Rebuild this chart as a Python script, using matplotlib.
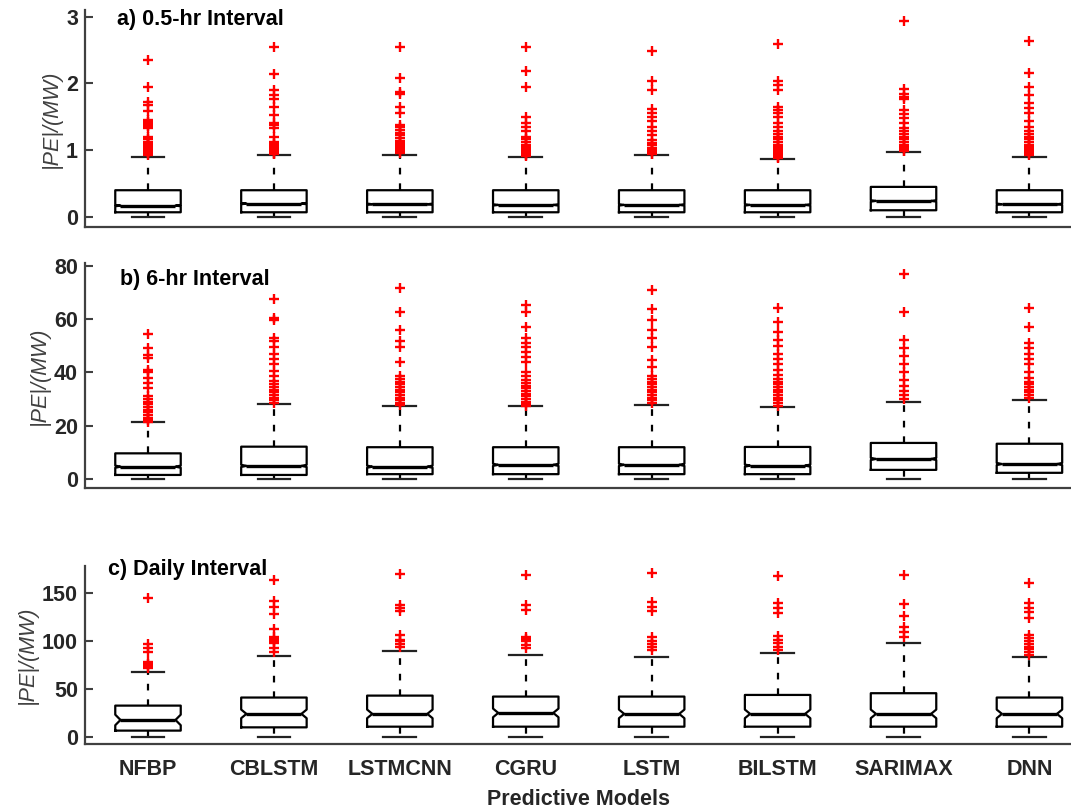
import numpy as np
import matplotlib.pyplot as plt

plt.rcParams['font.family'] = ['Liberation Sans', 'DejaVu Sans']
plt.rcParams['font.weight'] = 'bold'

models = ['NFBP', 'CBLSTM', 'LSTMCNN', 'CGRU', 'LSTM', 'BILSTM', 'SARIMAX', 'DNN']

# a) 0.5-hr interval
q1_a = [0.07, 0.07, 0.07, 0.07, 0.07, 0.07, 0.10, 0.07]
med_a = [0.17, 0.20, 0.19, 0.18, 0.18, 0.18, 0.24, 0.19]
q3_a = [0.40, 0.40, 0.40, 0.40, 0.40, 0.40, 0.45, 0.40]
lo_a = [0, 0, 0, 0, 0, 0, 0, 0]
hi_a = [0.90, 0.92, 0.92, 0.89, 0.92, 0.87, 0.97, 0.89]
ci_a = [0.01, 0.01, 0.01, 0.01, 0.01, 0.01, 0.01, 0.01]
fliers_a = [
    [2.35, 1.95, 1.72, 1.68, 1.58, 1.45, 1.42, 1.39, 1.36, 1.33, 1.2, 1.16, 1.12, 1.09, 1.07, 1.05, 1.03, 1.01, 0.99, 0.97, 0.95, 0.93],
    [2.54, 2.14, 1.90, 1.83, 1.76, 1.65, 1.53, 1.40, 1.37, 1.33, 1.20, 1.12, 1.09, 1.06, 1.03, 1.0, 0.98, 0.96, 0.94],
    [2.54, 2.08, 1.87, 1.84, 1.65, 1.55, 1.38, 1.35, 1.3, 1.26, 1.22, 1.18, 1.14, 1.1, 1.07, 1.04, 1.01, 0.98, 0.95],
    [2.54, 2.18, 1.94, 1.50, 1.40, 1.35, 1.29, 1.2, 1.16, 1.12, 1.08, 1.05, 1.02, 0.99, 0.96, 0.93, 0.91],
    [2.49, 2.04, 1.90, 1.62, 1.55, 1.50, 1.43, 1.35, 1.28, 1.23, 1.15, 1.11, 1.07, 1.03, 1.0, 0.97, 0.94],
    [2.59, 2.04, 1.97, 1.90, 1.65, 1.60, 1.55, 1.50, 1.40, 1.35, 1.28, 1.24, 1.2, 1.16, 1.12, 1.08, 1.05, 1.02, 0.99, 0.96, 0.93, 0.9, 0.88],
    [2.94, 1.91, 1.84, 1.80, 1.76, 1.60, 1.54, 1.48, 1.40, 1.33, 1.28, 1.24, 1.2, 1.16, 1.12, 1.08, 1.05, 1.02, 0.99],
    [2.64, 2.16, 1.94, 1.83, 1.70, 1.63, 1.55, 1.43, 1.35, 1.28, 1.24, 1.2, 1.16, 1.12, 1.08, 1.04, 1.01, 0.98, 0.95, 0.92],
]

# b) 6-hr interval
q1_b = [1.5, 1.5, 1.8, 1.8, 1.8, 1.8, 3.4, 2.3]
med_b = [4.6, 4.9, 4.6, 5.3, 5.3, 5.0, 7.5, 5.6]
q3_b = [9.6, 12.1, 11.9, 11.9, 11.9, 12.0, 13.5, 13.2]
lo_b = [0, 0, 0, 0, 0, 0, 0, 0]
hi_b = [21.2, 28.2, 27.4, 27.2, 27.8, 27.0, 29.0, 29.7]
ci_b = [0.4, 0.4, 0.4, 0.4, 0.4, 0.4, 0.4, 0.4]
fliers_b = [
    [54.4, 49, 46.6, 45.5, 41, 40, 38, 36, 34, 31, 30, 29, 28, 27, 26, 25, 24, 23, 22, 21.5],
    [67.3, 60.4, 59.5, 52.9, 51.6, 49.6, 47, 45, 43, 40.6, 38.7, 36.8, 35.5, 34.5, 33.5, 32.5, 31.5, 30.5, 29.5, 28.6],
    [71.7, 62.5, 56, 51.6, 49.5, 43.7, 38.7, 37.5, 36.5, 35.5, 34.5, 33.5, 32.5, 31.5, 30.5, 29.5, 28.5, 27.6],
    [65.1, 62.5, 57, 53, 51, 49.5, 47.5, 45.7, 43.7, 40, 38.5, 37, 36, 35, 34, 33, 32, 31, 30, 29, 28, 27.4],
    [71, 63.8, 59.5, 56, 53, 49.6, 44.5, 42, 38.7, 37.5, 36.5, 35.5, 34.5, 33.5, 32.5, 31.5, 30.5, 29.5, 28.5],
    [64, 59, 55, 52, 50, 47, 45, 43, 41, 39, 37.5, 36.5, 35.5, 34.5, 33.5, 32.5, 31.5, 30.5, 29.5, 28.5, 27.5],
    [77, 62.5, 52, 49, 46, 43, 40, 37, 35, 33, 31.5, 30],
    [64, 57, 51, 49, 47, 45, 43, 40, 38, 36.5, 35.5, 34.5, 33.5, 32.5, 31.5, 30.5],
]

# c) daily interval
q1_c = [6.6, 10, 10.7, 10.7, 10.7, 10.7, 10.7, 10.7]
med_c = [17.7, 24, 24, 25, 24, 24, 24, 24]
q3_c = [32.6, 41, 43, 42, 42, 43.7, 45.5, 41]
lo_c = [0, 0, 0, 0, 0, 0, 0, 0]
hi_c = [68, 84, 89.6, 85.4, 83.6, 87.8, 97.6, 83.6]
ci_c = [5.5, 4.5, 4.5, 4.5, 4.5, 4.5, 4.5, 4.5]
fliers_c = [
    [144, 97, 93, 88, 78, 76, 74, 72],
    [163, 141, 135, 128, 112, 104, 102, 100, 98, 93, 88],
    [169.5, 137.5, 134, 131, 106, 101, 100, 97, 94],
    [168.8, 137.5, 132, 104, 102, 100, 96, 92],
    [170.5, 140, 135, 131, 104, 100, 97, 94, 90],
    [167.7, 139, 134, 129, 104.5, 101, 97.6, 94, 90],
    [168.8, 138.5, 126, 114, 109, 103.8],
    [160, 139, 134, 130, 124, 106, 103, 100, 97, 94, 91, 88, 85],
]

positions = np.arange(1, len(models) + 1)
box_w = 0.52
txt_col = '#262626'
fs = 15.5


def draw_panel(ax, q1, med, q3, lo, hi, ci, fliers, ylim, yticks, title, tx, ty):
    stats = []
    for i in range(len(models)):
        stats.append(dict(q1=q1[i], med=med[i], q3=q3[i], whislo=lo[i], whishi=hi[i],
                          cilo=med[i] - ci[i], cihi=med[i] + ci[i], fliers=fliers[i]))
    art = ax.bxp(stats, positions=positions, widths=box_w, shownotches=True,
                 boxprops=dict(color='black', lw=1.6),
                 medianprops=dict(color='black', lw=2.4),
                 whiskerprops=dict(color='black', lw=1.6, linestyle=(0, (3, 4))),
                 capprops=dict(color='#222222', lw=1.6),
                 flierprops=dict(marker='+', markeredgecolor='red', markersize=7.5,
                                 markeredgewidth=1.7, linestyle='none'))
    # shallower notches, median across nearly full box
    for box, med_line, p in zip(art['boxes'], art['medians'], positions):
        x = np.array(box.get_xdata(), dtype=float)
        x[3] = p + box_w * 0.42
        x[8] = p - box_w * 0.42
        box.set_xdata(x)
        med_line.set_xdata([p - box_w * 0.42, p + box_w * 0.42])
    ax.set_xlim(0.5, 8.33)
    ax.set_ylim(*ylim)
    ax.set_yticks(yticks)
    for s in ['top', 'right']:
        ax.spines[s].set_visible(False)
    for s in ['left', 'bottom']:
        ax.spines[s].set_linewidth(1.6)
        ax.spines[s].set_color('#404040')
    ax.tick_params(axis='y', direction='in', length=6, width=1.5, labelsize=fs,
                   colors='#404040', labelcolor=txt_col, pad=5)
    ax.set_ylabel('|PE|/(MW)', fontstyle='italic', fontweight='normal', fontsize=fs,
                  color='#404040', labelpad=3)
    ax.text(tx, ty, title, transform=ax.transAxes, fontsize=fs, fontweight='bold',
            color='black', va='center', ha='left')


fig = plt.figure(figsize=(10.71, 8.10), dpi=100)
ax_a = fig.add_axes([0.0794, 0.7198, 0.9206, 0.268])
ax_b = fig.add_axes([0.0794, 0.3975, 0.9206, 0.278])
ax_c = fig.add_axes([0.0794, 0.0815, 0.9206, 0.22])

draw_panel(ax_a, q1_a, med_a, q3_a, lo_a, hi_a, ci_a, fliers_a, (-0.15, 3.1), [0, 1, 2, 3],
           'a) 0.5-hr Interval', 0.032, 0.954)
draw_panel(ax_b, q1_b, med_b, q3_b, lo_b, hi_b, ci_b, fliers_b, (-3.4, 81), [0, 20, 40, 60, 80],
           'b) 6-hr Interval', 0.035, 0.924)
draw_panel(ax_c, q1_c, med_c, q3_c, lo_c, hi_c, ci_c, fliers_c, (-7.3, 178), [0, 50, 100, 150],
           'c) Daily Interval', 0.023, 0.978)

for ax in [ax_a, ax_b]:
    ax.set_xticks([])
ax_c.set_xticks(positions, models)
ax_c.tick_params(axis='x', length=0, labelsize=fs, labelcolor=txt_col, pad=11)
ax_c.set_xlabel('Predictive Models', fontsize=fs, fontweight='bold', color=txt_col, labelpad=6)

fig.savefig('out.png', dpi=100)
